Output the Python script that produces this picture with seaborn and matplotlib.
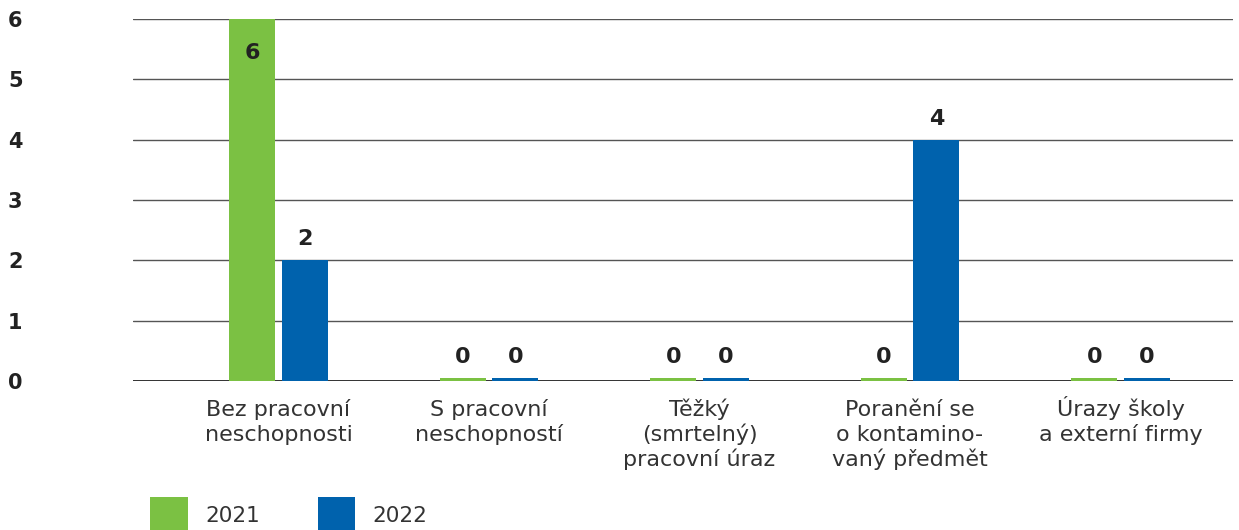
import numpy as np
import pandas as pd
import seaborn as sns
import matplotlib.pyplot as plt
from matplotlib.patches import Patch

# data
categories = ["Bez pracovní\nneschopnosti", "S pracovní\nneschopností",
              "Těžký\n(smrtelný)\npracovní úraz", "Poranění se\no kontamino-\nvaný předmět",
              "Úrazy školy\na externí firmy"]
years = ["2021", "2022"]
values_2021 = [6, 0, 0, 0, 0]
values_2022 = [2, 0, 0, 4, 0]
colors = ["#7bc143", "#0062ad"]

sns.set_style("white")
plt.rcParams['font.family'] = ['DejaVu Sans']

df = pd.DataFrame({
    "category": categories * 2,
    "year": [years[0]] * 5 + [years[1]] * 5,
    "value": values_2021 + values_2022,
})
# zero values are shown as a thin stub, like in the original
df["shown"] = np.maximum(df["value"], 0.05)

fig = plt.figure(figsize=(12.39, 5.30), dpi=100)
ax = fig.add_axes([133 / 1239, 1 - 381 / 530, 1100 / 1239, 362 / 530])

sns.barplot(data=df, x="category", y="shown", hue="year", palette=colors,
            width=0.5, gap=0.125, legend=False, ax=ax, saturation=1,
            linewidth=0, edgecolor="none", zorder=2)

ax.set_ylim(0, 6)
ax.set_xlim(-0.691, 4.534)
ax.set_yticks(range(7))
ax.set_xlabel("")
ax.set_ylabel("")
for s in ax.spines.values():
    s.set_visible(False)

for yv in range(1, 7):
    ax.axhline(yv, color="#555555", lw=1.0, zorder=0)
ax.axhline(0, color="#222222", lw=1.3, zorder=1)

ax.tick_params(axis="y", length=0, pad=90, labelsize=15, labelcolor="#222222")
for t in ax.get_yticklabels():
    t.set_fontweight("bold")
    t.set_horizontalalignment("left")

# category labels: each line placed on its own baseline so accents don't shift lines
ax.tick_params(axis="x", length=0)
ax.set_xticklabels([])
for i, lab in enumerate(categories):
    for j, line in enumerate(lab.split("\n")):
        ax.annotate(line, (i, 0), xycoords=("data", "axes fraction"),
                    xytext=(0, -25.5 - 18 * j), textcoords="offset points",
                    ha="center", va="baseline", fontsize=16, color="#333333",
                    annotation_clip=False)

# value labels
for cont, vals in zip(ax.containers, [values_2021, values_2022]):
    for bar, v in zip(cont, vals):
        cx = bar.get_x() + bar.get_width() / 2
        top = bar.get_height()
        if v >= 6:
            ax.annotate(str(v), (cx, top), xytext=(0, -17), textcoords="offset points",
                        ha="center", va="top", fontsize=16, fontweight="bold", color="#222222")
        else:
            ax.annotate(str(v), (cx, top), xytext=(0, 8), textcoords="offset points",
                        ha="center", va="bottom", fontsize=16, fontweight="bold", color="#222222")

handles = [Patch(facecolor=c, edgecolor="none") for c in colors]
fig.legend(handles, years, loc="upper left", bbox_to_anchor=(150 / 1239, 1 - 497 / 530),
           ncol=2, frameon=False, fontsize=15.5, handlelength=1.75, handleheight=2.2,
           handletextpad=0.8, columnspacing=2.7, borderpad=0, borderaxespad=0,
           labelcolor="#333333")

fig.savefig("out.png", dpi=100)
